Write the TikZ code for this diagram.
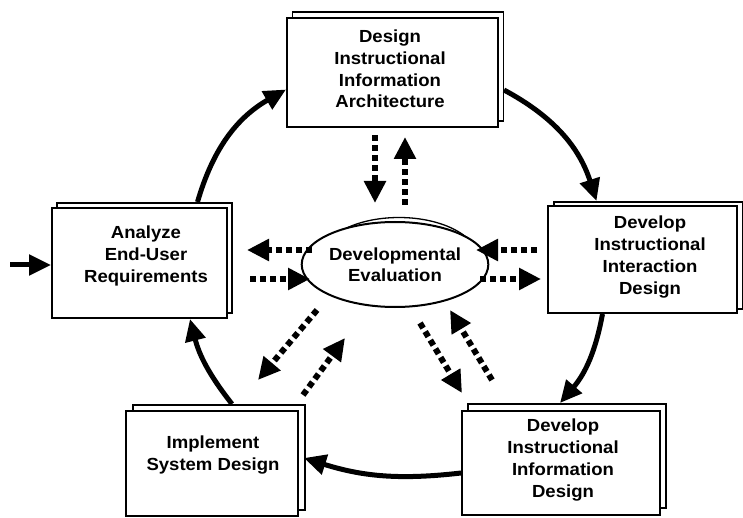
\documentclass[tikz,border=0pt]{standalone}
\usepackage{fontspec}
\setmainfont{Liberation Sans}[FakeStretch=1.06]
\usetikzlibrary{arrows.meta,shapes.geometric}
\begin{document}
\begin{tikzpicture}[x=1pt,y=-1pt,
  box/.style={draw, line width=2pt, fill=white, rectangle, inner sep=0pt},
  backpage/.style={draw, line width=1.3pt, fill=white, rectangle, inner sep=0pt},
  lbl/.style={font=\bfseries\fontsize{17.5}{21.7}\selectfont, align=center, inner sep=0pt},
  cyc/.style={line width=5pt, -{Triangle[length=22pt,width=20pt]}},
  dots/.style={line width=6pt, dash pattern=on 6pt off 4pt, -{Triangle[length=22pt,width=21pt]}},
]
\useasboundingbox (0,0) rectangle (743,518);

% top box
\node[backpage, minimum width=211pt, minimum height=109pt] (Tb) at (398,66.5) {};
\node[box, minimum width=211pt, minimum height=109pt] (T) at (392.5,72.5) {};
\node[lbl] (Tt) at (390,69) {Design\\Instructional\\Information\\Architecture};

% left box
\node[backpage, minimum width=175pt, minimum height=110pt] (Lb) at (144.5,258) {};
\node[box, minimum width=175pt, minimum height=110pt] (L) at (139.5,263) {};
\node[lbl] (Lt) at (146,256) {Analyze\\End-User\\Requirements};

% right box
\node[backpage, minimum width=189pt, minimum height=107pt] (Rb) at (648.5,255.5) {};
\node[box, minimum width=189pt, minimum height=107pt] (R) at (642.5,259.5) {};
\node[lbl] (Rt) at (650,257) {Develop\\Instructional\\Interaction\\Design};

% bottom left box
\node[backpage, minimum width=172pt, minimum height=105pt] (BLb) at (219,457.5) {};
\node[box, minimum width=172pt, minimum height=105pt] (BL) at (212,463.5) {};
\node[lbl] (BLt) at (213,455) {Implement\\System Design};

% bottom right box
\node[backpage, minimum width=198pt, minimum height=104pt] (BRb) at (567,456) {};
\node[box, minimum width=198pt, minimum height=104pt] (BR) at (561,463) {};
\node[lbl] (BRt) at (563,460) {Develop\\Instructional\\Information\\Design};

% central ellipse
\node[draw, ellipse, line width=1.3pt, minimum width=160pt, minimum height=86pt] (Eb) at (399,260.5) {};
\node[draw, ellipse, fill=white, line width=2pt, minimum width=160pt, minimum height=85pt,
      inner sep=0pt, font=\bfseries\fontsize{17.5}{21}\selectfont, align=center] (E) at (395,264.5) {Developmental\\Evaluation};

% main cycle
\draw[cyc] ([xshift=58pt,yshift=5pt]L.north) to[bend left=22] ([yshift=-17pt]T.west);
\draw[cyc] ([xshift=5pt,yshift=-17.5pt]T.east) to[bend left=22] ([xshift=-46pt,yshift=4pt]R.north);
\draw[cyc] ([xshift=-40pt]R.south) to[bend left=15] ([xshift=-1pt,yshift=7pt]BR.north);
\draw[cyc] ([yshift=-10pt]BR.west) to[bend left=12] ([xshift=5pt,yshift=5.5pt]BL.east);
\draw[cyc] ([xshift=20pt,yshift=6pt]BL.north) to[bend left=12] ([xshift=50.5pt]L.south);

% entry arrow
\coordinate (entry) at (10,265);
\draw[cyc] (entry) -- ([yshift=-2pt]L.west);

% dotted evaluation arrows
\coordinate (d1a) at (375,135); \coordinate (d1b) at (375,203);
\coordinate (d2a) at (405,205); \coordinate (d2b) at (405,137);
\coordinate (l1a) at (312,250); \coordinate (l1b) at (247,250);
\coordinate (l2a) at (250,279); \coordinate (l2b) at (310,279);
\coordinate (r1a) at (537,250); \coordinate (r1b) at (476,250);
\coordinate (r2a) at (480,279); \coordinate (r2b) at (541,279);
\coordinate (a1a) at (317,310); \coordinate (a1b) at (258,380);
\coordinate (a2a) at (303,395); \coordinate (a2b) at (345,338);
\coordinate (b1a) at (420,323); \coordinate (b1b) at (462,393);
\coordinate (b2a) at (492,380); \coordinate (b2b) at (450,310);
\draw[dots] (d1a) -- (d1b);
\draw[dots] (d2a) -- (d2b);
\draw[dots] (l1a) -- (l1b);
\draw[dots] (l2a) -- (l2b);
\draw[dots] (r1a) -- (r1b);
\draw[dots] (r2a) -- (r2b);
\draw[dots] (a1a) -- (a1b);
\draw[dots] (a2a) -- (a2b);
\draw[dots] (b1a) -- (b1b);
\draw[dots] (b2a) -- (b2b);
\end{tikzpicture}
\end{document}
